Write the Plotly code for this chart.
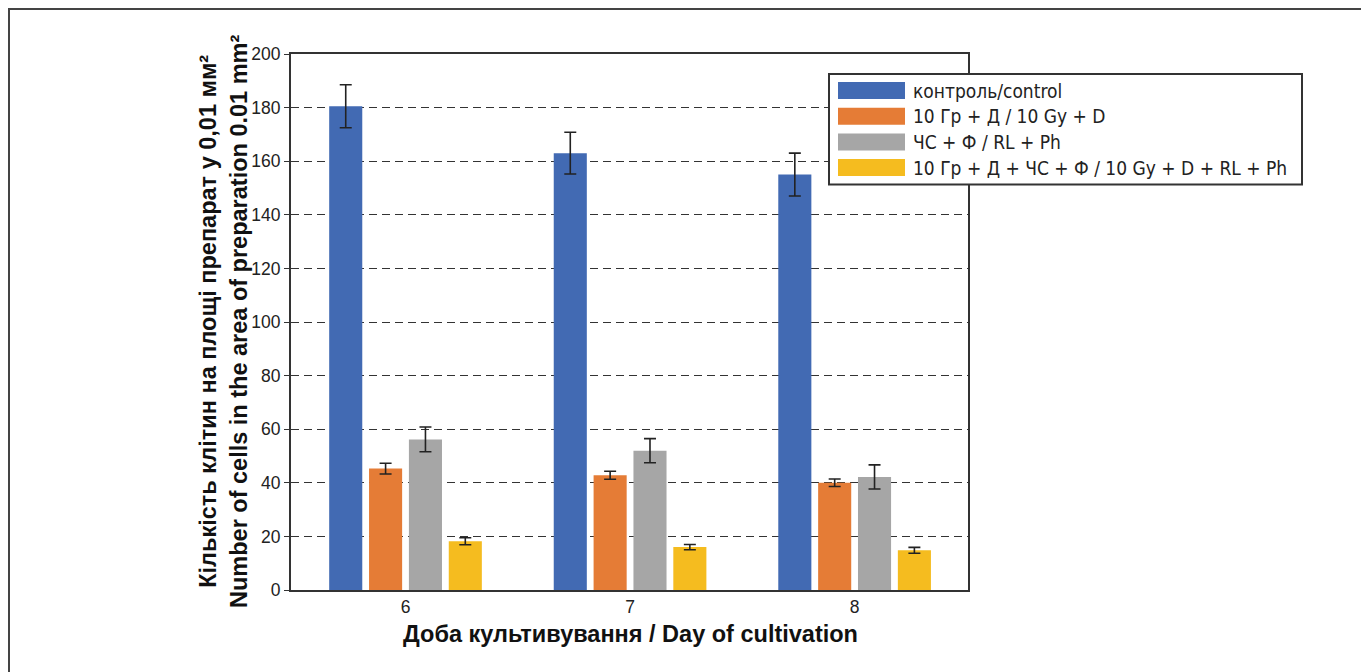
import plotly.graph_objects as go

# ---- data ----
days = ["6", "7", "8"]
series_names = [
    "контроль/control",
    "10 Гр + Д / 10 Gy + D",
    "ЧС + Ф / RL + Ph",
    "10 Гр + Д + ЧС + Ф / 10 Gy + D + RL + Ph",
]
control = [180.5, 163.0, 155.0]
control_err = [8.0, 7.8, 8.0]
gy_d = [45.3, 42.8, 40.0]
gy_d_err = [2.0, 1.5, 1.4]
rl_ph = [56.2, 52.0, 42.2]
rl_ph_err = [4.6, 4.5, 4.5]
combo = [18.2, 16.0, 14.8]
combo_err = [1.3, 1.0, 1.1]
y_ticks = [0, 20, 40, 60, 80, 100, 120, 140, 160, 180, 200]

colors = ["#426AB3", "#E57C36", "#A6A6A6", "#F5BC1F"]
values = [control, gy_d, rl_ph, combo]
errors = [control_err, gy_d_err, rl_ph_err, combo_err]

# ---- layout geometry (page has an 8px body offset) ----
OFF = 8
W, H = 1369, 672
ML, MR, MT, MB = 283, 409, 46, 90
PW, PH = W - ML - MR, H - MT - MB


def px(x):
    return (x - OFF - ML) / PW


def py(y):
    return (H - MB - (y - OFF)) / PH


fig = go.Figure()
for name, vals, errs, col in zip(series_names, values, errors, colors):
    fig.add_trace(go.Bar(
        x=days, y=vals, name=name, marker=dict(color=col, line=dict(width=0)),
        error_y=dict(type="data", array=errs, visible=True, color="#222222",
                     thickness=1.6, width=6),
        showlegend=False,
    ))

tick_font = dict(family="Liberation Sans, Arial, sans-serif", size=17.5, color="#222222")
title_font = dict(family="Liberation Sans, Arial, sans-serif", size=23.5, color="#111111")
legend_font = dict(family="DejaVu Sans Condensed, sans-serif", size=19, color="#222222")

fig.update_layout(
    width=W, height=H,
    margin=dict(l=ML, r=MR, t=MT, b=MB),
    paper_bgcolor="white", plot_bgcolor="white",
    barmode="group", bargap=0.29, bargroupgap=0.17,
    xaxis=dict(type="category", range=[-0.51, 2.505], showline=True, linecolor="#333333",
               linewidth=2, mirror=True, ticks="", tickfont=tick_font, showgrid=False),
    yaxis=dict(range=[0, 200], tickvals=y_ticks, showline=True, linecolor="#333333",
               linewidth=2, mirror=True, ticks="outside", ticklen=5, tickwidth=1,
               tickcolor="#333333", tickfont=tick_font, showgrid=True, gridcolor="#333333",
               gridwidth=1, griddash="8px,5px", zeroline=False),
)

shapes = []
annotations = []
# outer frame (left/top/right edges; bottom edge falls below the page)
shapes.append(dict(type="rect", xref="paper", yref="paper", x0=px(9), x1=px(1366),
                   y0=py(700), y1=py(9), line=dict(color="#444444", width=2),
                   fillcolor="rgba(0,0,0,0)", layer="below"))
# legend box
shapes.append(dict(type="rect", xref="paper", yref="paper", x0=px(829), x1=px(1302),
                   y0=py(184.5), y1=py(74), line=dict(color="#333333", width=2),
                   fillcolor="white", layer="above"))
for i, (name, col) in enumerate(zip(series_names, colors)):
    top = 82 + 25.7 * i
    shapes.append(dict(type="rect", xref="paper", yref="paper", x0=px(838), x1=px(905),
                       y0=py(top + 17), y1=py(top), line=dict(width=0), fillcolor=col,
                       layer="above"))
    annotations.append(dict(text=name, xref="paper", yref="paper", x=px(911),
                            y=py(top + 8.5), xanchor="left", yanchor="middle",
                            showarrow=False, font=legend_font))

# axis titles
annotations.append(dict(
    text="<b>Кількість клітин на площі препарат у 0,01 мм²</b><br>"
         "<b>Number of cells in the area of preparation 0.01 mm²</b>",
    xref="paper", yref="paper", x=px(223), y=py(322), xanchor="center", yanchor="middle",
    textangle=-90, showarrow=False, font=title_font))
annotations.append(dict(
    text="<b>Доба культивування / Day of cultivation</b>",
    xref="paper", yref="paper", x=px(630), y=py(634), xanchor="center", yanchor="middle",
    showarrow=False, font=title_font))

fig.update_layout(shapes=shapes, annotations=annotations)
fig.write_html("out.html")
